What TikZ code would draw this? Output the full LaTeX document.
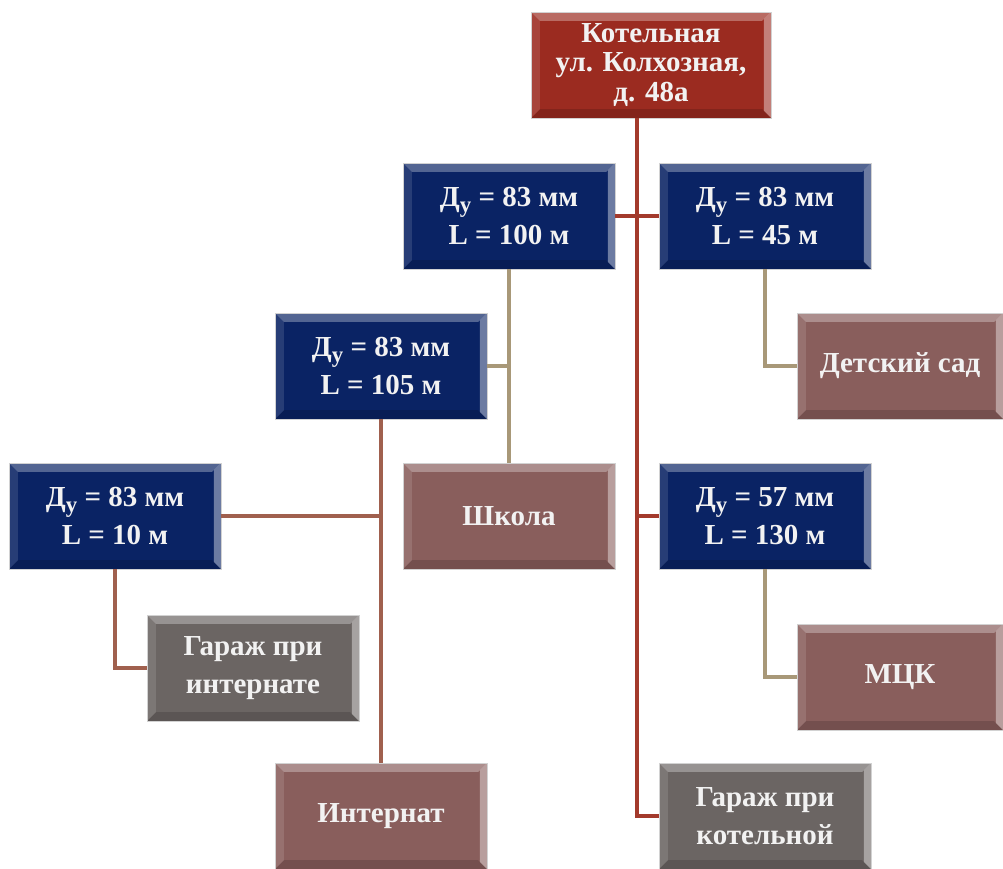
\documentclass[tikz,border=0pt]{standalone}
\usepackage{fontspec}
\setmainfont{Liberation Serif}
\usepackage{tikz}
\usetikzlibrary{calc, positioning}

\definecolor{pipeblue}{RGB}{10,35,100}
\definecolor{boilred}{RGB}{155,43,32}
\definecolor{usermauve}{RGB}{137,94,92}
\definecolor{garagegray}{RGB}{107,101,99}
\definecolor{trunkred}{RGB}{163,58,44}
\definecolor{branchtan}{RGB}{168,152,120}
\definecolor{branchbrown}{RGB}{160,96,78}

\newcommand{\dnom}{Д\raisebox{-.45ex}{\fontsize{13}{13}\selectfont у}}

\begin{document}
\begin{tikzpicture}[
        x=0.02cm, y=-0.02cm,
        box/.style={rectangle, draw=gray!35, line width=0.4pt, minimum width=4.24cm, minimum height=2.12cm, align=center, text=white!95!black,
            font=\fontsize{16.5}{22}\selectfont\bfseries, bevel},
        bevel/.style={path picture={
            \fill[white, opacity=.30] (path picture bounding box.north west) -- (path picture bounding box.north east)
                -- ([shift={(-5pt,-5pt)}]path picture bounding box.north east) -- ([shift={(5pt,-5pt)}]path picture bounding box.north west) -- cycle;
            \fill[white, opacity=.40] (path picture bounding box.north east) -- (path picture bounding box.south east)
                -- ([shift={(-4pt,4pt)}]path picture bounding box.south east) -- ([shift={(-4pt,-4pt)}]path picture bounding box.north east) -- cycle;
            \fill[black, opacity=.15] (path picture bounding box.south west) -- (path picture bounding box.south east)
                -- ([shift={(-5pt,5pt)}]path picture bounding box.south east) -- ([shift={(5pt,5pt)}]path picture bounding box.south west) -- cycle;
            \fill[white, opacity=.12] (path picture bounding box.north west) -- (path picture bounding box.south west)
                -- ([shift={(5pt,5pt)}]path picture bounding box.south west) -- ([shift={(5pt,-5pt)}]path picture bounding box.north west) -- cycle;
        }},
        pipe/.style={box, fill=pipeblue},
        consumer/.style={box, fill=usermauve},
        garage/.style={box, fill=garagegray},
        trunkline/.style={draw=trunkred, line width=2pt},
        tanline/.style={draw=branchtan, line width=2pt},
        brownline/.style={draw=branchbrown, line width=2pt}
    ]
    \useasboundingbox (0,0) rectangle (1003,868);

    \node[box, fill=boilred, minimum width=4.8cm, font=\fontsize{16.5}{17}\selectfont\bfseries] (boiler) at (651,65) {Котельная\\ул. Колхозная,\\д. 48а};

    \node[pipe] (pipe100) at (509,216) {\dnom{} = 83 мм\\L = 100 м};
    \node[pipe] (pipe45) at (765,216) {\dnom{} = 83 мм\\L = 45 м};
    \node[pipe] (pipe105) at (381,366) {\dnom{} = 83 мм\\L = 105 м};
    \node[consumer, minimum width=4.12cm] (kindergarten) at (900,366) {Детский сад};
    \node[pipe] (pipe10) at (115,516) {\dnom{} = 83 мм\\L = 10 м};
    \node[consumer] (school) at (509,516) {Школа};
    \node[pipe] (pipe57) at (765,516) {\dnom{} = 57 мм\\L = 130 м};
    \node[garage] (garageint) at (253,668) {Гараж при\\интернате};
    \node[consumer, minimum width=4.12cm] (mck) at (900,677) {МЦК};
    \node[consumer] (internat) at (381,816) {Интернат};
    \node[garage] (garageboil) at (765,816) {Гараж при\\котельной};

    % main line from the boiler
    \coordinate (trunk) at ($(boiler.south)+(-14,0)$);
    \draw[trunkline] (trunk) |- (garageboil.west);
    \draw[trunkline] (pipe100.east) -- (pipe45.west);
    \draw[trunkline] (trunk |- pipe57.west) -- (pipe57.west);

    % branches
    \draw[tanline] (pipe100.south) -- (school.north);
    \draw[tanline] (pipe105.east) -- (pipe105.east -| school.north);
    \draw[tanline] (pipe45.south) |- (kindergarten.west);
    \draw[tanline] (pipe57.south) |- (mck.west);

    \draw[brownline] (pipe105.south) -- (internat.north);
    \draw[brownline] (pipe10.east) -- (pipe10.east -| pipe105.south);
    \draw[brownline] (pipe10.south) |- (garageint.west);

\end{tikzpicture}
\end{document}
